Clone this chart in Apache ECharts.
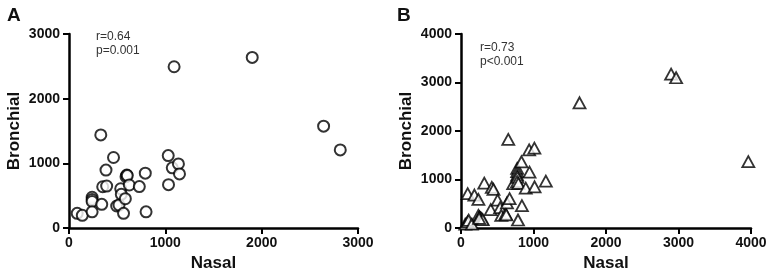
<!DOCTYPE html>
<html><head><meta charset="utf-8">
<script src="https://cdn.jsdelivr.net/npm/echarts@6/dist/echarts.min.js"></script>
<style>html,body{margin:0;padding:0;background:#fff}#c{width:771px;height:279px}</style>
</head><body><div id="c"></div>
<script>
const panelA = [[85,227],[138,196],[240,475],[240,440],[240,410],[240,250],[330,1440],[350,638],[391,649],[340,366],[384,896],[462,1090],[495,340],[519,355],[537,607],[543,520],[585,453],[566,227],[592,793],[600,820],[605,810],[626,665],[730,640],[792,848],[800,250],[1030,1120],[1033,670],[1072,930],[1091,2494],[1136,991],[1147,836],[1902,2638],[2643,1575],[2816,1208]];
const panelB = [[59,80],[90,125],[92,709],[185,680],[240,590],[106,160],[150,80],[240,260],[255,230],[270,210],[285,190],[300,170],[250,200],[321,925],[410,380],[425,835],[448,795],[505,575],[540,420],[556,262],[615,290],[625,270],[634,516],[670,605],[652,1826],[720,915],[786,165],[775,1230],[775,1160],[775,1090],[778,1045],[775,955],[792,920],[834,1365],[840,460],[893,820],[940,1610],[945,1150],[1012,1645],[1015,850],[1170,965],[1635,2582],[2898,3174],[2967,3098],[3963,1370]];
const xTicksA = {min:0, max:3000, interval:1000};
const yTicksA = {min:0, max:3000, interval:1000};
const xTicksB = {min:0, max:4000, interval:1000};
const yTicksB = {min:0, max:4000, interval:1000};
const panelLetters = ['A','B'];
const statsA = 'r=0.64\np=0.001';
const statsB = 'r=0.73\np<0.001';
const xName = 'Nasal', yName = 'Bronchial';

const font = 'Liberation Sans, Arial, sans-serif';
function axisCommon(t, name, isX){
  return {
    type:'value', min:t.min, max:t.max, interval:t.interval,
    name:name, nameLocation:'middle', nameGap: isX ? 26 : 46,
    nameTextStyle:{fontFamily:font, fontWeight:'bold', fontSize:17, color:'#111'},
    axisLine:{show:true, onZero:false, lineStyle:{color:'#000', width:2.5}},
    axisTick:{show:true, inside:false, length:6, lineStyle:{color:'#000', width:2}},
    axisLabel:{fontFamily:font, fontWeight:'bold', fontSize:14, color:'#111', margin:isX?8:9,
               formatter: v => String(v)},
    splitLine:{show:false}
  };
}
const chart = echarts.init(document.getElementById('c'), null, {renderer:'canvas'});
chart.setOption({
  animation:false,
  grid:[
    {left:69, top:34, width:289, height:194},
    {left:461, top:34, width:290, height:194}
  ],
  xAxis:[Object.assign(axisCommon(xTicksA,xName,true),{gridIndex:0}), Object.assign(axisCommon(xTicksB,xName,true),{gridIndex:1})],
  yAxis:[Object.assign(axisCommon(yTicksA,yName,false),{gridIndex:0}), Object.assign(axisCommon(yTicksB,yName,false),{gridIndex:1})],
  title:[
    {text:panelLetters[0], left:7, top:6, padding:0, textStyle:{fontFamily:font, fontWeight:'bold', fontSize:19, color:'#111'}},
    {text:panelLetters[1], left:397, top:6, padding:0, textStyle:{fontFamily:font, fontWeight:'bold', fontSize:19, color:'#111'}},
    {text:statsA, left:96, top:30, padding:0, textStyle:{fontFamily:font, fontWeight:'normal', fontSize:12, color:'#333', lineHeight:14}},
    {text:statsB, left:480, top:41, padding:0, textStyle:{fontFamily:font, fontWeight:'normal', fontSize:12, color:'#333', lineHeight:14}}
  ],
  series:[
    {type:'scatter', xAxisIndex:0, yAxisIndex:0, data:panelA, symbol:'circle', symbolSize:11,
     itemStyle:{color:'#fff', borderColor:'#000', borderWidth:2}},
    {type:'scatter', xAxisIndex:1, yAxisIndex:1, data:panelB, symbol:'triangle', symbolSize:[12,11],
     itemStyle:{color:'#fff', borderColor:'#000', borderWidth:1.8}}
  ]
});
</script></body></html>
